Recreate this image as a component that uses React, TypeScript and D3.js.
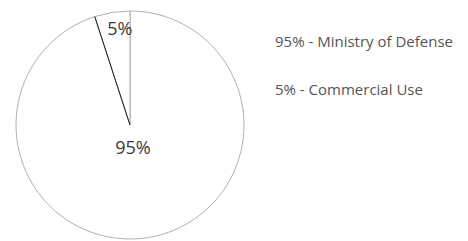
import React from "react";
import * as d3 from "d3";

const categories = ["Ministry of Defense", "Commercial Use"];
const values = [95, 5];
const sliceLabels = ["95%", "5%"];
const legendLabels = ["95% - Ministry of Defense", "5% - Commercial Use"];

export default function App() {
  const W = 468, H = 241;
  const cx = 130, cy = 125, r = 114;
  const pie = d3.pie<number>().sort(null).value((d) => d)(values);
  const arc = d3.arc<d3.PieArcDatum<number>>().innerRadius(0).outerRadius(r);
  const font = "'Open Sans', 'DejaVu Sans', sans-serif";
  const small = pie[1];
  const smallMid = (small.startAngle + small.endAngle) / 2;
  const sr = r * 0.85;
  const smallPos = { x: Math.sin(smallMid) * sr + 5, y: -Math.cos(smallMid) * sr + 6 };
  return (
    <svg width={W} height={H} style={{ position: "absolute", left: 0, top: 0 }}>
      <rect width={W} height={H} fill="#fff" />
      <g transform={`translate(${cx},${cy})`}>
        {pie.map((p, i) => (
          <path key={categories[i]} d={arc(p) || ""} fill="#fff" stroke="#9a9a9a" strokeWidth={0.8} />
        ))}
        <line
          x1={0}
          y1={0}
          x2={Math.sin(small.startAngle) * r}
          y2={-Math.cos(small.startAngle) * r}
          stroke="#222"
          strokeWidth={1}
        />
        <text x={3} y={29} textAnchor="middle" fontFamily={font} fontSize={18} fill="#3a3a3a">
          {sliceLabels[0]}
        </text>
        <text x={smallPos.x} y={smallPos.y} textAnchor="middle" fontFamily={font} fontSize={18} fill="#3a3a3a">
          {sliceLabels[1]}
        </text>
      </g>
      {legendLabels.map((t, i) => (
        <text key={t} x={275} y={47 + i * 48} fontFamily={font} fontSize={15} fill="#555">
          {t}
        </text>
      ))}
    </svg>
  );
}
